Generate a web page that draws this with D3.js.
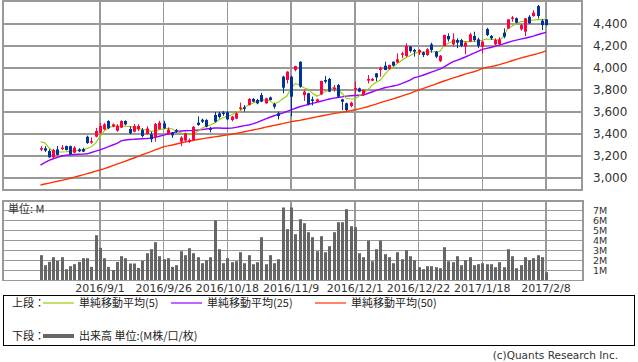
<!DOCTYPE html>
<html lang="ja">
<head>
<meta charset="UTF-8">
<title>株価チャート</title>
<script src="https://d3js.org/d3.v7.min.js"></script>
<style>
    body { margin: 0; background: #fff; overflow: hidden; }
    svg { display: block; }
    .grid line { stroke: #999; stroke-width: 1.5; shape-rendering: crispEdges; }
    .frame { fill: none; stroke: #999; stroke-width: 1.5; shape-rendering: crispEdges; }
    .ytick { font-family: "DejaVu Sans", sans-serif; font-size: 12px; fill: #333; }
    .vtick { font-family: "DejaVu Sans", sans-serif; font-size: 9.5px; fill: #333; }
    .xtick { font-family: "DejaVu Sans", sans-serif; font-size: 11px; fill: #333; }
    .legend text { font-family: "Noto Sans CJK JP", sans-serif; font-size: 11px; fill: #222; }
</style>
</head>
<body>
<div id="chart"></div>
<script>
// candles (oldest -> newest), 120 trading days
const opens = [3270,3270,3245,3188,3260,3272,3290,3290,3230,3260,3262,3375,3322,3376,3412,3442,3518,3467,3430,3458,
    3518,3445,3421,3442,3436,3400,3397,3370,3445,3497,3400,3412,3436,3330,3340,3330,3345,3503,3530,3527,
    3452,3573,3588,3595,3597,3527,3540,3633,3642,3663,3718,3709,3754,3679,3733,3672,3588,3921,3891,3921,
    3982,4057,3754,3770,3715,3694,3760,3891,3900,3806,3845,3715,3679,3654,3815,3815,3754,3885,3885,3951,
    3982,4021,3990,4057,4051,4124,4109,4194,4163,4142,4142,4118,4215,4148,4063,4200,4291,4215,4254,4254,
    4194,4240,4291,4260,4194,4354,4291,4215,4215,4321,4360,4452,4452,4352,4330,4466,4473,4563,4430,4442];
const highs = [3290,3290,3262,3265,3290,3300,3295,3295,3290,3270,3275,3385,3370,3455,3500,3500,3525,3495,3490,3525,
    3525,3470,3490,3488,3455,3470,3420,3500,3520,3520,3460,3418,3445,3380,3412,3360,3470,3560,3540,3535,
    3465,3600,3600,3610,3605,3565,3600,3685,3663,3727,3727,3720,3775,3730,3740,3685,3603,3930,3970,3930,
    4020,4060,3800,3775,3740,3720,3885,3927,3910,3845,3855,3720,3685,3694,3875,3822,3806,3936,3910,3955,
    4012,4057,4030,4060,4133,4148,4224,4200,4175,4170,4150,4180,4230,4155,4118,4303,4315,4315,4270,4265,
    4240,4320,4330,4275,4250,4365,4300,4270,4280,4360,4445,4473,4460,4400,4455,4480,4525,4573,4445,4445];
const lows = [3245,3235,3185,3180,3205,3255,3250,3210,3225,3235,3235,3310,3312,3370,3400,3435,3445,3460,3420,3455,
    3478,3398,3415,3425,3370,3395,3325,3330,3440,3445,3390,3365,3410,3290,3330,3320,3335,3475,3500,3460,
    3415,3505,3540,3565,3525,3515,3535,3618,3603,3660,3690,3670,3690,3675,3705,3630,3533,3770,3860,3560,
    3970,3820,3700,3660,3660,3690,3755,3860,3780,3785,3730,3618,3610,3642,3760,3780,3745,3860,3880,3880,
    3921,3980,3985,4015,4045,4088,4100,4140,4103,4118,4100,4110,4140,4090,4054,4195,4240,4195,4180,4190,
    4124,4235,4240,4180,4130,4290,4255,4205,4210,4270,4355,4420,4405,4340,4290,4400,4465,4450,4345,4385];
const closes = [3272,3250,3188,3255,3210,3276,3255,3218,3276,3243,3240,3318,3335,3427,3473,3488,3452,3488,3473,3518,
    3488,3406,3473,3473,3382,3450,3352,3490,3503,3452,3440,3388,3421,3367,3406,3345,3466,3482,3512,3467,
    3440,3512,3555,3588,3533,3558,3588,3642,3633,3718,3694,3679,3694,3724,3709,3648,3564,3821,3967,3739,
    4018,3830,3785,3672,3700,3715,3882,3876,3785,3821,3739,3694,3618,3685,3818,3785,3800,3900,3900,3915,
    3997,3982,4027,4021,4079,4133,4200,4154,4148,4163,4118,4170,4163,4103,4112,4300,4260,4260,4230,4200,
    4230,4306,4254,4200,4240,4300,4270,4254,4260,4285,4442,4460,4412,4390,4452,4406,4503,4473,4390,4390];

// 出来高 (M)
const volumes = [2.53,1.53,1.86,2.33,1.96,2.33,1.13,1.43,1.63,1.86,2.23,2.23,1.36,4.53,3.26,2.23,1.36,1.03,1.86,2.43,
    2.23,1.70,1.70,1.26,1.96,2.73,3.13,3.83,2.43,2.13,2.23,1.36,1.53,2.93,2.53,3.23,2.73,2.33,1.73,2.03,
    2.33,6.00,3.13,1.73,2.23,1.83,1.93,2.83,1.73,2.53,1.63,1.83,4.33,1.63,2.53,1.73,2.13,7.30,5.13,7.30,
    4.63,6.13,5.73,4.83,4.33,2.93,4.43,2.83,3.43,4.83,5.83,5.83,7.13,5.43,5.33,2.73,2.33,4.00,1.93,3.13,
    4.00,2.63,2.33,1.73,2.83,2.13,3.03,2.43,2.03,1.33,1.13,1.43,1.43,1.33,1.23,3.33,1.93,1.83,2.43,1.53,
    2.03,2.33,1.53,1.63,1.73,1.63,1.63,1.33,1.83,1.33,3.13,2.43,1.23,1.53,2.33,2.03,2.23,2.53,2.33,0.83];

// 単純移動平均
const ma5 = [3330,3320,3275,3240,3236,3237,3239,3242,3246,3250,3256,3268,3285,3320,3376,3430,3455,3473,3474,3473,
    3471,3468,3460,3450,3440,3436,3424,3430,3440,3446,3452,3445,3427,3410,3400,3393,3402,3425,3452,3470,
    3482,3500,3530,3548,3562,3575,3595,3612,3640,3665,3682,3695,3708,3710,3703,3672,3690,3718,3745,3815,
    3860,3845,3820,3808,3770,3745,3760,3785,3800,3825,3800,3768,3725,3718,3718,3745,3770,3800,3840,3870,
    3891,3940,3982,4010,4040,4068,4095,4112,4135,4142,4146,4148,4148,4148,4150,4205,4225,4240,4248,4244,
    4240,4240,4243,4245,4252,4263,4262,4258,4254,4285,4360,4380,4405,4420,4425,4430,4436,4440,4440,4442];
const ma25 = [3118,3140,3160,3175,3188,3200,3208,3212,3214,3216,3217,3220,3232,3244,3255,3270,3285,3300,3315,3338,
    3346,3350,3352,3355,3357,3359,3362,3370,3380,3390,3400,3410,3420,3427,3429,3431,3433,3436,3440,3445,
    3450,3455,3455,3452,3452,3453,3460,3468,3476,3482,3492,3506,3522,3538,3552,3566,3578,3590,3605,3620,
    3634,3648,3658,3668,3678,3688,3698,3708,3718,3726,3732,3738,3744,3748,3750,3752,3754,3768,3782,3796,
    3808,3820,3828,3836,3844,3858,3874,3890,3912,3922,3934,3948,3962,3976,3990,4010,4032,4055,4070,4084,
    4100,4118,4135,4152,4170,4178,4186,4196,4208,4220,4232,4244,4254,4262,4270,4280,4290,4302,4314,4324];
const ma50 = [2936,2945,2953,2962,2970,2979,2988,2998,3008,3018,3028,3040,3050,3062,3073,3085,3098,3112,3126,3140,
    3154,3168,3182,3196,3212,3226,3240,3255,3270,3285,3292,3300,3309,3318,3326,3334,3342,3350,3356,3362,
    3368,3374,3380,3386,3392,3398,3404,3412,3420,3428,3436,3444,3452,3462,3470,3478,3486,3494,3503,3512,
    3518,3524,3532,3540,3548,3556,3564,3571,3578,3585,3592,3598,3605,3612,3620,3628,3638,3648,3660,3672,
    3685,3696,3708,3720,3732,3745,3758,3770,3785,3800,3812,3826,3840,3854,3868,3882,3895,3908,3920,3932,
    3944,3955,3966,3978,3997,4005,4012,4020,4030,4042,4054,4066,4078,4090,4100,4110,4120,4130,4142,4155];

// x axis ticks: candle index and label
const tickIdx = [14, 29, 44, 59, 74, 89, 104, 119];
const tickLabels = ["2016/9/1", "2016/9/26", "2016/10/18", "2016/11/9", "2016/12/1", "2016/12/22", "2017/1/18", "2017/2/8"];
const priceTicks = [3000, 3200, 3400, 3600, 3800, 4000, 4200, 4400];
const volTicks = [1, 2, 3, 4, 5, 6, 7];

const W = 638, H = 362;
const UP = "#ff0040", DOWN = "#003399";

const svg = d3.select("#chart").append("svg")
    .attr("width", W).attr("height", H);

const x = d3.scaleLinear().domain([0, 119]).range([40.5, 546]);
const y = d3.scaleLinear().domain([3000, 4400]).range([178, 24]);
const yv = d3.scaleLinear().domain([0, 7]).range([280.5, 210.5]);

// ---------- upper panel ----------
const upper = { x0: 3, x1: 582, y0: 0.75, y1: 190 };
const g1 = svg.append("g");
const grid1 = g1.append("g").attr("class", "grid");
grid1.selectAll("line.h").data(priceTicks).enter().append("line")
    .attr("x1", upper.x0).attr("x2", upper.x1)
    .attr("y1", d => y(d)).attr("y2", d => y(d));
grid1.selectAll("line.v").data(tickIdx).enter().append("line")
    .attr("x1", d => x(d)).attr("x2", d => x(d))
    .attr("y1", upper.y0).attr("y2", upper.y1);
g1.append("rect").attr("class", "frame")
    .attr("x", upper.x0).attr("y", upper.y0)
    .attr("width", upper.x1 - upper.x0).attr("height", upper.y1 - upper.y0);

g1.selectAll("text.ytick").data(priceTicks).enter().append("text")
    .attr("class", "ytick")
    .attr("x", 593).attr("y", d => y(d)).attr("dy", "0.36em")
    .text(d => d3.format(",")(d));

// moving averages
const maLine = d3.line().x((d, i) => x(i)).y(d => y(d));
[[ma50, "#ff3300", 1.4], [ma25, "#9900ff", 1.4], [ma5, "#99cc00", 1.1]].forEach(([s, c, w]) => {
    g1.append("path").datum(s)
        .attr("fill", "none").attr("stroke", c).attr("stroke-width", w)
        .attr("d", maLine);
});

// candles
const candles = g1.append("g").selectAll("g")
    .data(d3.range(opens.length)).enter().append("g");
candles.append("line")
    .attr("x1", i => Math.round(x(i)) + 0.5).attr("x2", i => Math.round(x(i)) + 0.5)
    .attr("y1", i => y(highs[i])).attr("y2", i => y(lows[i]))
    .attr("stroke", i => closes[i] >= opens[i] ? UP : DOWN)
    .attr("stroke-width", 1);
candles.append("rect")
    .attr("x", i => Math.round(x(i)) - 1)
    .attr("width", 3)
    .attr("y", i => y(Math.max(opens[i], closes[i])))
    .attr("height", i => Math.max(1.5, Math.abs(y(opens[i]) - y(closes[i]))))
    .attr("fill", i => closes[i] >= opens[i] ? UP : DOWN);

// ---------- volume panel ----------
const lower = { x0: 3, x1: 583, y0: 201, y1: 280.5 };
const g2 = svg.append("g");
const grid2 = g2.append("g").attr("class", "grid");
grid2.selectAll("line.h").data(volTicks).enter().append("line")
    .attr("x1", lower.x0).attr("x2", lower.x1)
    .attr("y1", d => yv(d)).attr("y2", d => yv(d));
grid2.selectAll("line.v").data(tickIdx).enter().append("line")
    .attr("x1", d => x(d)).attr("x2", d => x(d))
    .attr("y1", lower.y0).attr("y2", lower.y1);

g2.append("text")
    .attr("x", 8).attr("y", 213).text("単位: M")
    .style("font-family", "'Noto Sans CJK JP', sans-serif")
    .style("font-size", "11px").style("fill", "#333");

g2.selectAll("rect.bar").data(volumes).enter().append("rect")
    .attr("x", (d, i) => Math.round(x(i)) - 1)
    .attr("width", 3)
    .attr("y", d => yv(d))
    .attr("height", d => yv(0) - yv(d))
    .attr("fill", "#666");

g2.append("rect").attr("class", "frame")
    .attr("x", lower.x0).attr("y", lower.y0)
    .attr("width", lower.x1 - lower.x0).attr("height", lower.y1 - lower.y0);

g2.selectAll("text.vt").data(volTicks).enter().append("text")
    .attr("class", "vtick")
    .attr("x", 593).attr("y", d => yv(d)).attr("dy", "0.36em")
    .text(d => d + "M");

// date labels
svg.selectAll("text.xtick").data(tickIdx).enter().append("text")
    .attr("class", "xtick")
    .attr("x", d => x(d)).attr("y", 292)
    .attr("text-anchor", "middle")
    .text((d, i) => tickLabels[i]);

// ---------- legend ----------
const lg = svg.append("g").attr("class", "legend");
lg.append("rect").attr("x", 3.5).attr("y", 295.5).attr("width", 631).attr("height", 50)
    .attr("fill", "none").attr("stroke", "#000").attr("stroke-width", 1);

const rows = [
    { label: "上段：", y: 303, items: [
        { x: 43, c: "#99cc00", w: 1.2, t: "単純移動平均(5)" },
        { x: 171, c: "#9900ff", w: 1.2, t: "単純移動平均(25)" },
        { x: 315, c: "#ff3300", w: 1.2, t: "単純移動平均(50)" }] },
    { label: "下段：", y: 336, items: [
        { x: 43, c: "#666", w: 4, t: "出来高 単位:(M株/口/枚)" }] }
];
rows.forEach(r => {
    lg.append("text").attr("x", 12).attr("y", r.y).attr("dy", "0.36em").text(r.label);
    r.items.forEach(it => {
        lg.append("line").attr("x1", it.x).attr("x2", it.x + 31)
            .attr("y1", r.y).attr("y2", r.y)
            .attr("stroke", it.c).attr("stroke-width", it.w);
        lg.append("text").attr("x", it.x + 36).attr("y", r.y).attr("dy", "0.36em").text(it.t);
    });
});

svg.append("text")
    .attr("x", 618).attr("y", 355).attr("dy", "0.36em")
    .attr("text-anchor", "end")
    .style("font-family", "'DejaVu Sans', sans-serif").style("font-size", "10.5px").style("fill", "#333")
    .text("(c)Quants Research Inc.");
</script>
</body>
</html>
